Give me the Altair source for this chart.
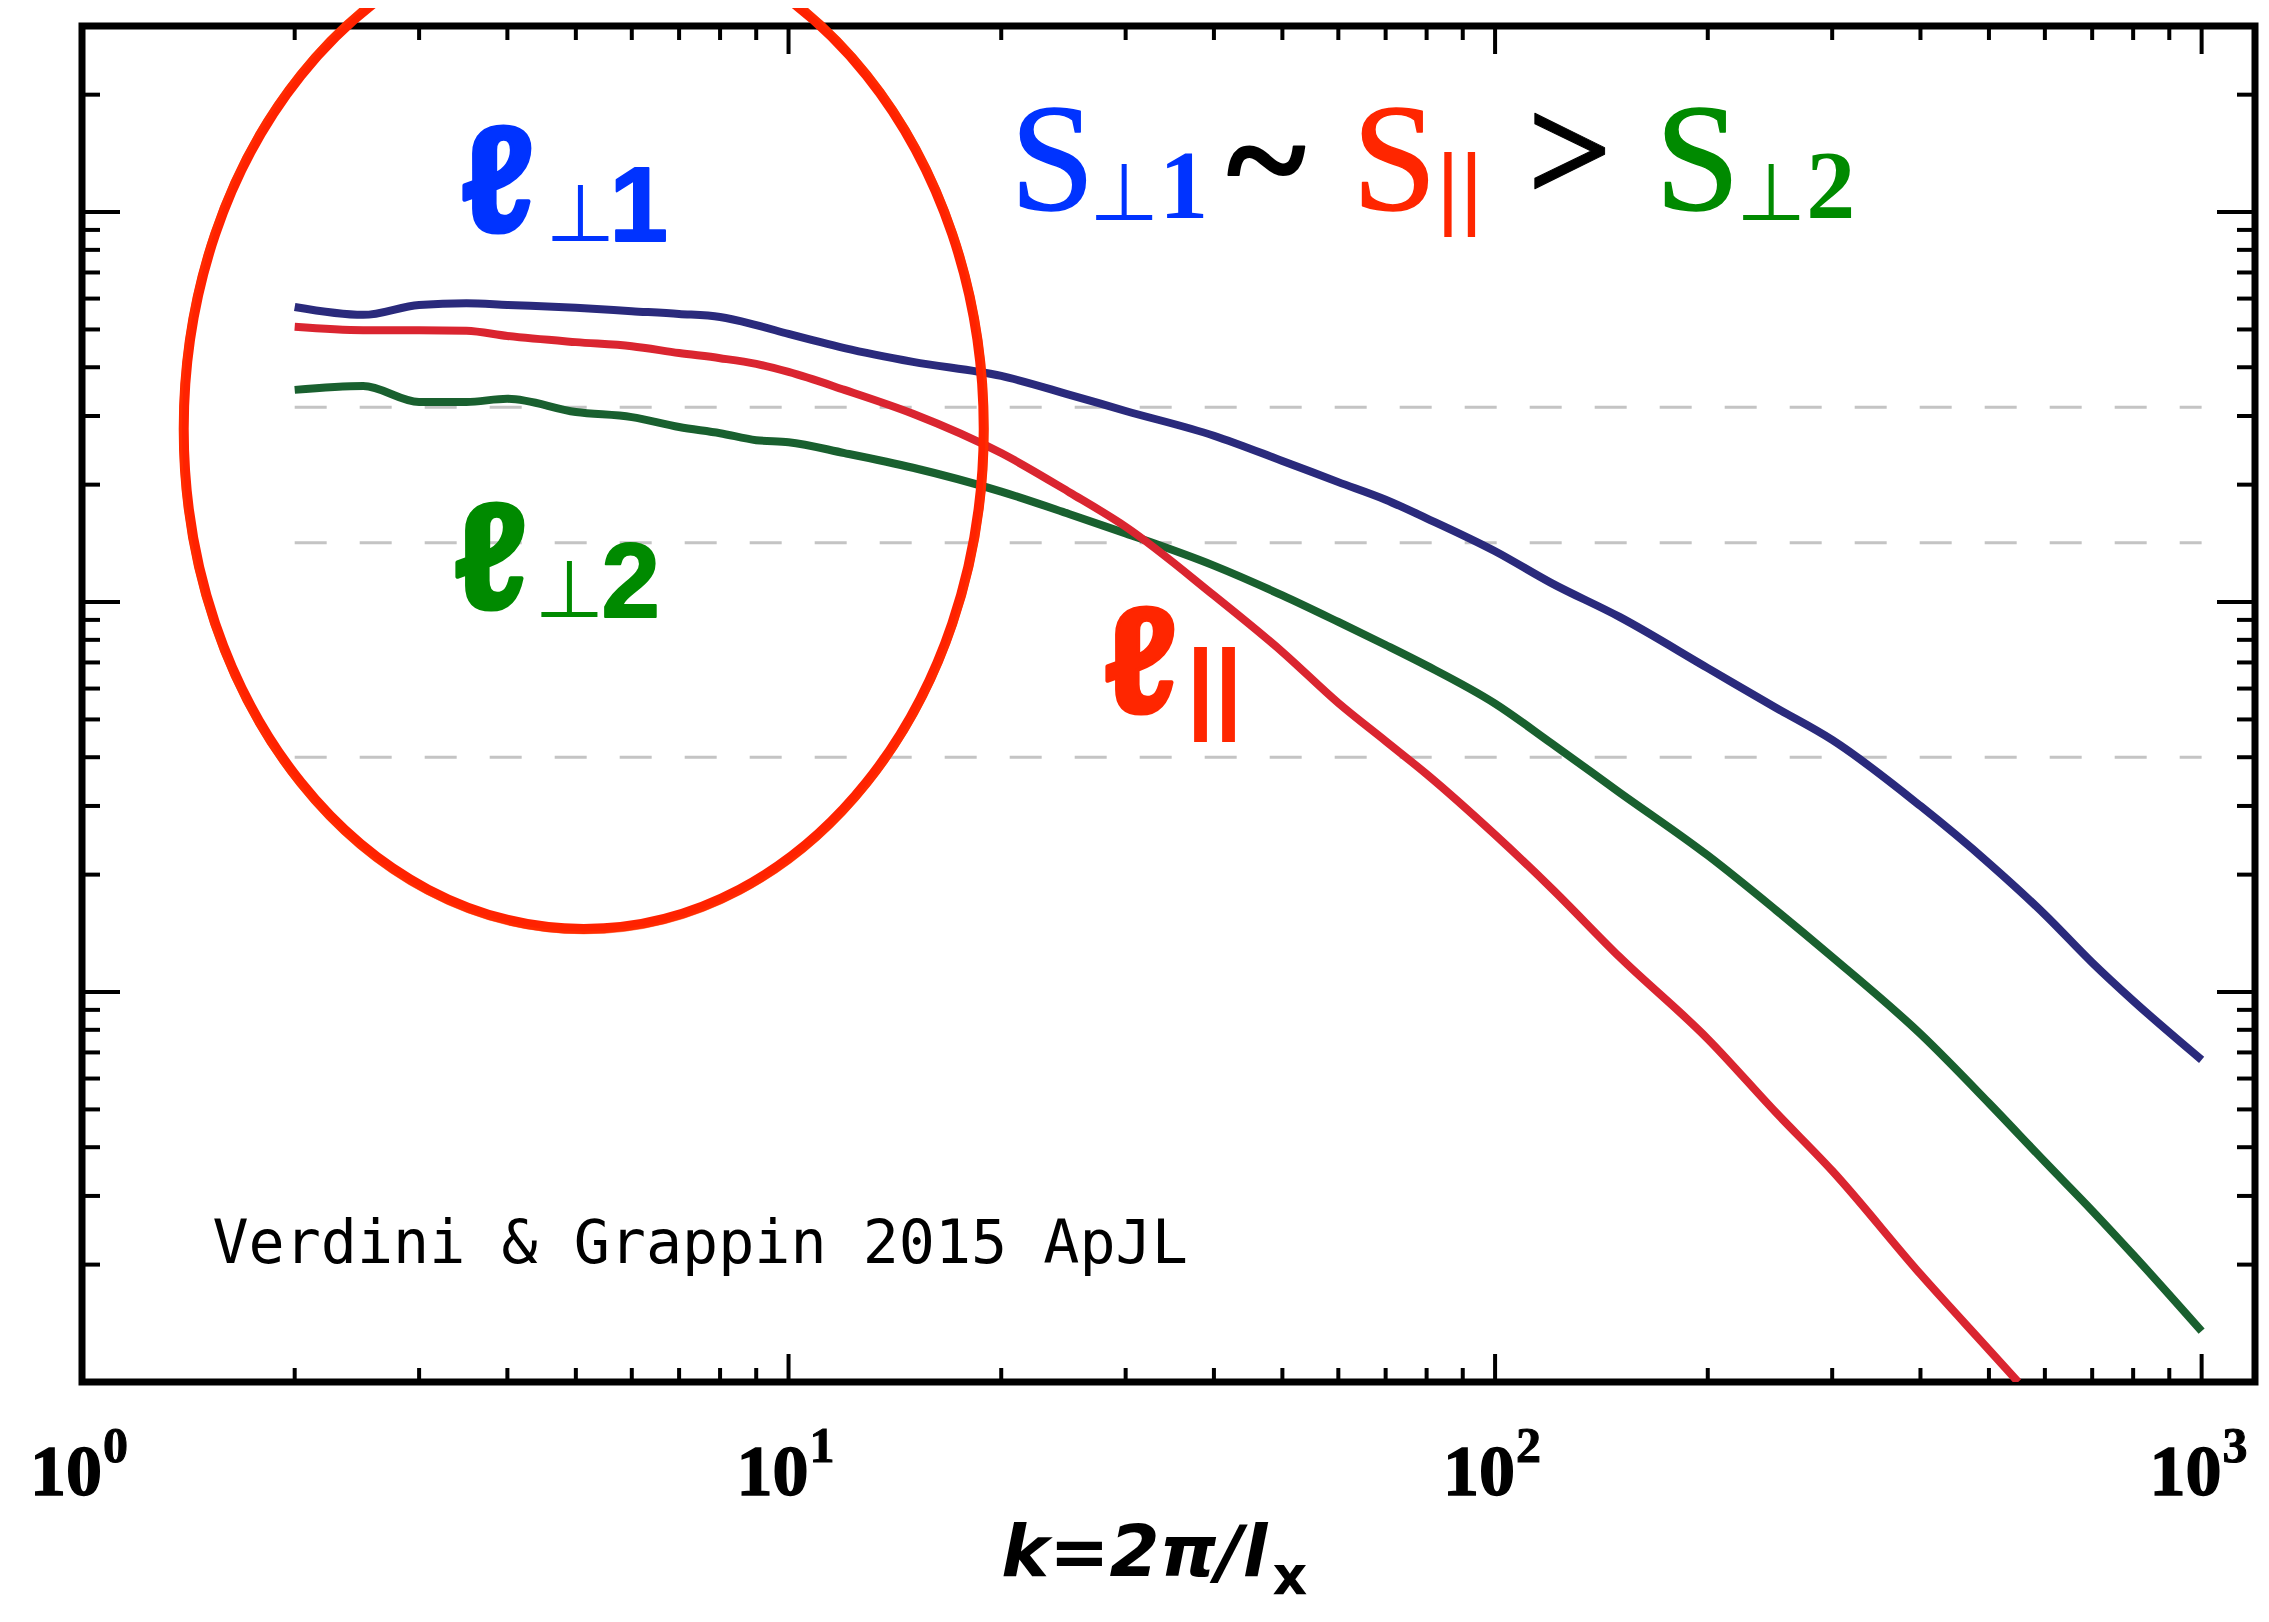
import altair as alt
import pandas as pd

# ---------------- data ----------------
k_vals = [2, 2.5, 3, 3.5, 4, 5, 6, 7, 8, 9, 10, 12, 15, 20, 25, 30, 40, 50, 60, 70, 80,
          100, 120, 150, 200, 250, 300, 400, 500, 600, 700, 800, 1000]
s_perp1 = [0.571, 0.545, 0.578, 0.584, 0.578, 0.568, 0.557, 0.548, 0.538, 0.513, 0.487,
           0.448, 0.413, 0.380, 0.340, 0.309, 0.267, 0.230, 0.203, 0.183, 0.164,
           0.135, 0.112, 0.0916, 0.0677, 0.0535, 0.0443, 0.0300, 0.0214, 0.0158,
           0.0119, 0.0095, 0.0067]
k_par = [2, 2.5, 3, 3.5, 4, 5, 6, 7, 8, 9, 10, 12, 15, 20, 25, 30, 40, 50, 60, 70, 80,
         100, 120, 150, 200, 250, 300, 400, 500, 550]
s_par = [0.508, 0.498, 0.498, 0.496, 0.481, 0.464, 0.453, 0.435, 0.422, 0.408, 0.389,
         0.350, 0.304, 0.241, 0.191, 0.156, 0.104, 0.0745, 0.0551, 0.0440, 0.0362,
         0.0253, 0.0185, 0.0123, 0.00758, 0.00490, 0.00348, 0.00189, 0.00121, 0.00100]
s_perp2 = [0.350, 0.358, 0.326, 0.326, 0.332, 0.307, 0.298, 0.281, 0.271, 0.260, 0.257,
           0.241, 0.221, 0.192, 0.168, 0.150, 0.124, 0.104, 0.0889, 0.0776, 0.0687,
           0.0549, 0.0435, 0.0325, 0.0224, 0.0162, 0.0123, 0.00781, 0.00519, 0.00367,
           0.00275, 0.00212, 0.00135]

dash_levels = [0.316, 0.142, 0.040]
dash_k_start = 2
dash_k_end = 1000

x_major = [10, 100, 1000]
x_minor = [m * d for d in (1, 10, 100) for m in range(2, 10)]
y_major = [0.01, 0.1, 1]
y_minor = [round(m * d, 4) for d in (0.001, 0.01, 0.1) for m in range(2, 10)] + [2]
x_label_k = [1, 10, 100, 1000]
x_label_base = ["10", "10", "10", "10"]
x_label_exp = ["0", "1", "2", "3"]

# ---------------- chart geometry ----------------
W, H = 2173, 1356
xs = alt.Scale(type="log", domain=[1, 1190], nice=False)
ys = alt.Scale(type="log", domain=[0.001, 3], nice=False)


def X(field="k"):
    return alt.X(f"{field}:Q", scale=xs, axis=None)


def Y(field="v"):
    return alt.Y(f"{field}:Q", scale=ys, axis=None)


layers = []

# dashed reference lines
dash_df = pd.DataFrame({"v": dash_levels, "k": [dash_k_start] * 3, "k2": [dash_k_end] * 3})
layers.append(alt.Chart(dash_df).mark_rule(color="#c4c4c4", strokeWidth=3, strokeDash=[32, 33])
              .encode(x=X("k"), x2="k2:Q", y=Y("v")))

# curves
line_specs = [
    (k_vals, s_perp1, "#2a2a7c"),
    (k_vals, s_perp2, "#19602f"),
    (k_par, s_par, "#da2530"),
]
for ks, vs, col in line_specs:
    df = pd.DataFrame({"k": ks, "v": vs})
    layers.append(alt.Chart(df).mark_line(color=col, strokeWidth=8, clip=True,
                                          strokeJoin="round", interpolate="monotone")
                  .encode(x=X(), y=Y()))

# ticks (pointing inward)
dfxM = pd.DataFrame({"k": x_major})
dfxm = pd.DataFrame({"k": x_minor})
dfyM = pd.DataFrame({"v": y_major})
dfym = pd.DataFrame({"v": y_minor})
tk = dict(color="black", strokeWidth=4)
layers += [
    alt.Chart(dfxM).mark_rule(**tk).encode(x=X(), y=alt.value(H), y2=alt.value(H - 28)),
    alt.Chart(dfxm).mark_rule(**tk).encode(x=X(), y=alt.value(H), y2=alt.value(H - 14)),
    alt.Chart(dfxM).mark_rule(**tk).encode(x=X(), y=alt.value(0), y2=alt.value(28)),
    alt.Chart(dfxm).mark_rule(**tk).encode(x=X(), y=alt.value(0), y2=alt.value(14)),
    alt.Chart(dfyM).mark_rule(**tk).encode(y=Y(), x=alt.value(0), x2=alt.value(38)),
    alt.Chart(dfym).mark_rule(**tk).encode(y=Y(), x=alt.value(0), x2=alt.value(18)),
    alt.Chart(dfyM).mark_rule(**tk).encode(y=Y(), x=alt.value(W), x2=alt.value(W - 38)),
    alt.Chart(dfym).mark_rule(**tk).encode(y=Y(), x=alt.value(W), x2=alt.value(W - 18)),
]

# x tick labels 10^n
lab_df = pd.DataFrame({"k": x_label_k, "base": x_label_base, "exp": x_label_exp})
layers.append(alt.Chart(lab_df).mark_text(align="center", baseline="alphabetic", dx=-16, dy=113,
                                          fontSize=72, font="Liberation Serif", fontWeight="bold",
                                          color="black", stroke="black", strokeWidth=1.5)
              .encode(x=X(), y=alt.value(H), text="base:N"))
layers.append(alt.Chart(lab_df).mark_text(align="left", baseline="alphabetic", dx=21, dy=80,
                                          fontSize=50, font="Liberation Serif", fontWeight="bold",
                                          color="black", stroke="black", strokeWidth=1)
              .encode(x=X(), y=alt.value(H), text="exp:N"))

# x axis title  k=2π/l_x
one = pd.DataFrame({"a": [0]})
layers.append(alt.Chart(one).mark_text(text="k=2π/l", align="right", baseline="alphabetic",
                                       dx=99, dy=194, fontSize=72, font="DejaVu Sans",
                                       fontWeight="bold", fontStyle="italic", color="black")
              .encode(x=alt.value(W / 2), y=alt.value(H)))
layers.append(alt.Chart(one).mark_text(text="x", align="left", baseline="alphabetic",
                                       dx=104, dy=212, fontSize=54, font="DejaVu Sans",
                                       fontWeight="bold", color="black")
              .encode(x=alt.value(W / 2), y=alt.value(H)))


def label_group(k, v, pieces):
    df = pd.DataFrame({"k": [k], "v": [v]})
    out = []
    for text, dx, dy, size, font, weight, color, sw in pieces:
        kw = dict(text=text, align="left", baseline="alphabetic", dx=dx, dy=dy,
                  fontSize=size, font=font, fontWeight=weight, color=color)
        if sw > 0:
            kw.update(stroke=color, strokeWidth=sw, strokeJoin="round")
        out.append(alt.Chart(df).mark_text(**kw).encode(x=X(), y=Y()))
    return out


BLUE, RED, GREEN, BLK = "#0033ff", "#ff2600", "#008a00", "black"
SERIF, SANS, DJV = "Liberation Serif", "Liberation Sans", "DejaVu Sans"
ELL = "Liberation Sans, DejaVu Sans"

# S⊥1 ~ S∥ > S⊥2
layers += label_group(20.6, 1.01, [
    ("S", 0, 0, 152, SERIF, "normal", BLUE, 1.5),
    ("⊥", 79, 10, 80, DJV, "normal", BLUE, 0),
    ("1", 149, 8, 98, SERIF, "bold", BLUE, 0),
    ("~", 217, 0, 150, SERIF, "bold", BLK, 2),
    ("S", 342, 0, 152, SERIF, "normal", RED, 1.5),
    ("||", 426, 8, 90, SANS, "normal", RED, 0),
    (">", 517, -9, 150, SERIF, "bold", BLK, 1),
    ("S", 645, 0, 152, SERIF, "normal", GREEN, 1.5),
    ("⊥", 726, 10, 80, DJV, "normal", GREEN, 0),
    ("2", 796, 8, 98, SERIF, "bold", GREEN, 0),
])

# ℓ⊥1
layers += label_group(3.444, 0.894, [
    ("ℓ", 0, 0, 150, ELL, "bold", BLUE, 4),
    ("⊥", 84, 10, 80, DJV, "normal", BLUE, 0),
    ("1", 148, 10, 105, SANS, "bold", BLUE, 2),
])
# ℓ⊥2
layers += label_group(3.367, 0.0966, [
    ("ℓ", 0, 0, 150, ELL, "bold", GREEN, 4),
    ("⊥", 80, 9, 80, DJV, "normal", GREEN, 0),
    ("2", 147, 9, 105, SANS, "bold", GREEN, 2),
])
# ℓ∥
layers += label_group(28.0, 0.0522, [
    ("ℓ", 0, 0, 150, ELL, "bold", RED, 4),
    ("||", 82, 8, 100, SANS, "bold", RED, 0),
])
# citation
layers += label_group(1.53, 0.00202, [
    ("Verdini & Grappin 2015 ApJL", 0, 0, 60, "DejaVu Sans Mono", "normal", BLK, 0),
])

# hand-drawn red ellipse
ell_df = pd.DataFrame({"k": [5.13], "v": [0.278]})
ell_path = "M-0.8 0A0.8 1 0 1 1 0.8 0A0.8 1 0 1 1 -0.8 0Z"
layers.append(alt.Chart(ell_df).mark_point(shape=ell_path, size=1000000, filled=False,
                                           color="#ff2200", strokeWidth=10, opacity=1)
              .encode(x=X(), y=Y()))
layers.append(alt.Chart(ell_df).mark_point(shape=ell_path, size=1016000, filled=False,
                                           color="#ff3300", strokeWidth=3, opacity=0.6)
              .encode(x=X(), y=Y()))

chart = alt.layer(*layers).properties(
    width=W, height=H,
    autosize=alt.AutoSizeParams(type="none"),
    padding={"left": 74, "top": 18, "right": 4, "bottom": 232},
    background="white",
).configure_view(stroke="black", strokeWidth=7)

chart.save("out.html", embed_options={"renderer": "svg", "actions": False})
